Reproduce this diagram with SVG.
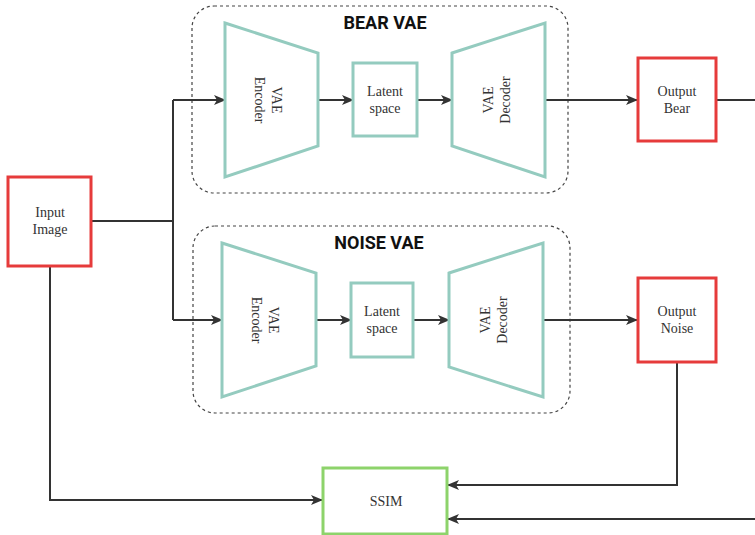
<svg xmlns="http://www.w3.org/2000/svg" width="755" height="535" viewBox="0 0 755 535">
<defs>
<marker id="arr" markerWidth="12" markerHeight="10" viewBox="0 0 12 10" refX="11" refY="5" orient="auto" markerUnits="userSpaceOnUse">
<path d="M0,0 L12,5 L0,10 L3,5 Z" fill="#333"/>
</marker>
<style>
.conn{fill:none;stroke:#333;stroke-width:2}
.grp{fill:none;stroke:#444;stroke-width:1.2;stroke-dasharray:3,3}
.teal{fill:#fff;stroke:#94cbbf;stroke-width:3}
.red{fill:#fff;stroke:#e63b3b;stroke-width:3}
.green{fill:#fff;stroke:#8dd36b;stroke-width:3}
.t{font-family:"Liberation Serif",serif;font-size:14px;fill:#333;text-anchor:middle}
.title{font-family:Roboto,"Liberation Sans",sans-serif;font-weight:bold;font-size:18px;fill:#111;text-anchor:middle}
</style>
</defs>
<rect width="755" height="535" fill="#fff"/>
<g id="bear-vae">
<rect class="grp" x="192" y="6" width="376" height="187" rx="22"/>
<text class="title" x="385" y="29">BEAR VAE</text>
</g>
<g id="noise-vae">
<rect class="grp" x="193" y="226" width="377" height="187" rx="22"/>
<text class="title" x="379" y="249">NOISE VAE</text>
</g>
<g id="connectors">
<path class="conn" d="M91,221 H173"/>
<path class="conn" d="M173,100 V320"/>
<path class="conn" d="M173,100 H225" marker-end="url(#arr)"/>
<path class="conn" d="M173,320 H222" marker-end="url(#arr)"/>
<path class="conn" d="M318,100 H353" marker-end="url(#arr)"/>
<path class="conn" d="M417,100 H452" marker-end="url(#arr)"/>
<path class="conn" d="M545,100 H637" marker-end="url(#arr)"/>
<path class="conn" d="M316,320 H351" marker-end="url(#arr)"/>
<path class="conn" d="M413,320 H449" marker-end="url(#arr)"/>
<path class="conn" d="M543,320 H637" marker-end="url(#arr)"/>
<path class="conn" d="M716,100 H755"/>
<path class="conn" d="M50,266 V500 H322" marker-end="url(#arr)"/>
<path class="conn" d="M677,362 V485 H448" marker-end="url(#arr)"/>
<path class="conn" d="M755,519 H448" marker-end="url(#arr)"/>
</g>
<g id="bear-encoder">
<polygon class="teal" points="225,23 318,53 318,146 225,177"/>
<text class="t" transform="translate(268,100) rotate(90)"><tspan x="0" y="-4">VAE</tspan><tspan x="0" y="13">Encoder</tspan></text>
</g>
<g id="bear-latent">
<rect class="teal" x="353" y="63" width="64" height="73"/>
<text class="t" x="385" y="96">Latent</text>
<text class="t" x="385" y="113">space</text>
</g>
<g id="bear-decoder">
<polygon class="teal" points="452,53 545,23 545,177 452,146"/>
<text class="t" transform="translate(497,100) rotate(-90)"><tspan x="0" y="-4">VAE</tspan><tspan x="0" y="13">Decoder</tspan></text>
</g>
<g id="noise-encoder">
<polygon class="teal" points="222,243 316,273 316,366 222,397"/>
<text class="t" transform="translate(265,320) rotate(90)"><tspan x="0" y="-4">VAE</tspan><tspan x="0" y="13">Encoder</tspan></text>
</g>
<g id="noise-latent">
<rect class="teal" x="351" y="283" width="62" height="74"/>
<text class="t" x="382" y="316">Latent</text>
<text class="t" x="382" y="333">space</text>
</g>
<g id="noise-decoder">
<polygon class="teal" points="449,273 543,243 543,397 449,367"/>
<text class="t" transform="translate(494,320) rotate(-90)"><tspan x="0" y="-4">VAE</tspan><tspan x="0" y="13">Decoder</tspan></text>
</g>
<g id="input-image">
<rect class="red" x="8" y="177" width="83" height="89"/>
<text class="t" x="50" y="217">Input</text>
<text class="t" x="50" y="234">Image</text>
</g>
<g id="output-bear">
<rect class="red" x="638" y="58" width="78" height="83"/>
<text class="t" x="677" y="96">Output</text>
<text class="t" x="677" y="113">Bear</text>
</g>
<g id="output-noise">
<rect class="red" x="638" y="278" width="78" height="84"/>
<text class="t" x="677" y="316">Output</text>
<text class="t" x="677" y="333">Noise</text>
</g>
<g id="ssim">
<rect class="green" x="323" y="468" width="124" height="66"/>
<text class="t" x="386" y="506">SSIM</text>
</g>
</svg>
